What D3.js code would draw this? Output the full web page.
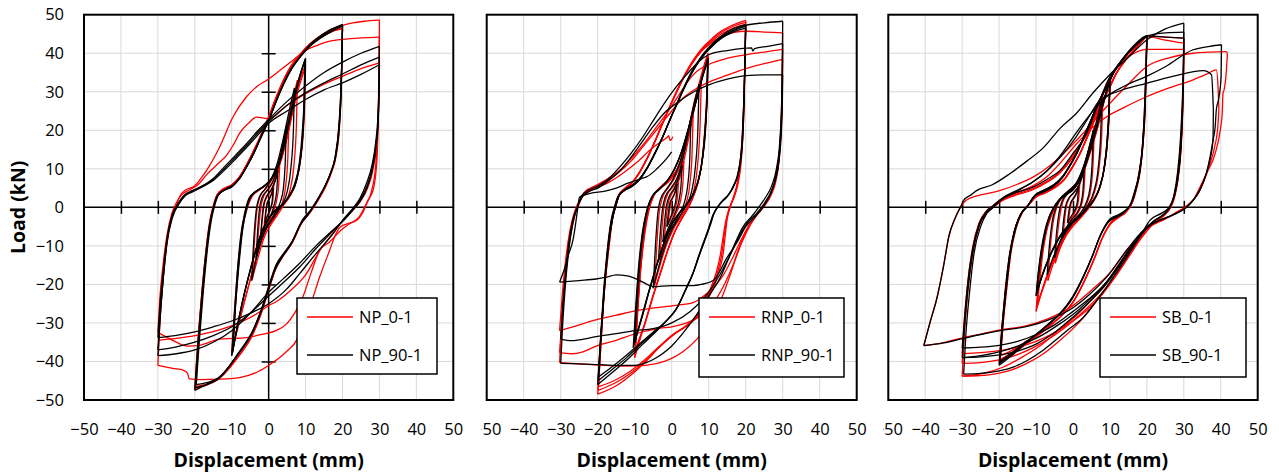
<!DOCTYPE html>
<html>
<head>
<meta charset="utf-8">
<script src="https://cdn.jsdelivr.net/npm/d3@7"></script>
<style>
  body { margin: 0; background: #fff; }
  svg { display: block; }
  text { font-family: "Open Sans", "Noto Sans", sans-serif; fill: #000; }
</style>
</head>
<body>
<svg id="chart" width="1279" height="475"></svg>
<script>
// ---------------------------------------------------------------
// Axis values
// ---------------------------------------------------------------
const xTicks = [-50, -40, -30, -20, -10, 0, 10, 20, 30, 40, 50];
const yTicks = [-50, -40, -30, -20, -10, 0, 10, 20, 30, 40, 50];
const innerTicks = [-40, -30, -20, -10, 0, 10, 20, 30, 40];
const seriesNames = [["NP_0-1", "NP_90-1"], ["RNP_0-1", "RNP_90-1"], ["SB_0-1", "SB_90-1"]];

// ---------------------------------------------------------------
// Load-displacement records. Each branch is a flat list of
// displacement (mm), load (kN) pairs; loading branches run left to
// right, unloading branches right to left.
// ---------------------------------------------------------------

// NP_0-1
const np0 = [
 [-1.2,-4.5, -0.8,-1, -0.4,1.2, 0.3,2.5, 0.9,4, 1.4,6],
 [1.4,6, 1.2,2.5, 0.8,0.3, 0.1,-1.5, -0.6,-3, -1.2,-4.5],
 [-2.2,-8.5, -1.7,-3, -1.2,0.8, -0.3,3, 0.9,4.8, 2,7.5, 3,11.5],
 [3,11.5, 2.7,5.5, 2.1,1.5, 1,-1.5, -0.3,-3.8, -1.4,-5.8, -2.2,-8.5],
 [-3.2,-12.5, -2.6,-4.5, -2.1,0, -1.3,3, 0.2,5, 1.7,7.5, 3.3,12.5, 4.6,19, 5.5,23],
 [5.5,23, 5.2,13, 4.6,5.5, 3.8,1.5, 2.6,-1, 1,-3.5, -0.5,-5.5, -2,-9, -3.2,-12.5],
 [-4.4,-18.5, -3.8,-8, -3.2,-1, -2.3,2.8, -0.8,4.8, 1,7.5, 2.8,12, 4.6,19.5, 6.5,28, 7.8,33],
 [7.8,33, 7.5,21, 6.8,10.5, 5.8,4.5, 4.3,1, 2.5,-1.8, 0.6,-4.5, -1.3,-8, -3,-13.5, -4.4,-18.5],
 [-10,-37.5, -9.2,-26, -8.2,-14, -7.1,-5, -6,-0.5, -4.8,2.5, -3,4.2, -1,5.6, 1,7.8, 3,11.5, 4.5,16.5, 6,23, 7.5,29.5, 9,34.5, 10,37],
 [10,37, 9.8,28, 9.4,19.5, 8.6,12, 7.4,6.5, 5.8,3, 3.8,0.5, 1.8,-1.5, 0,-4, -1.6,-7.5, -3.2,-12.5, -4.9,-18.5, -6.7,-25, -8.4,-31.5, -10,-37.5],
 [-9.8,-36.5, -9,-25, -8,-13, -6.9,-4.5, -5.7,0, -4.5,2.8, -2.6,4.5, -0.6,6, 1.5,8.5, 3.5,12.5, 5,18, 6.5,24.5, 8,30.5, 9.3,34.5, 9.8,36],
 [9.8,36, 9.6,27, 9.2,18.5, 8.4,11.5, 7.2,6, 5.5,2.5, 3.4,0, 1.4,-2, -0.3,-4.5, -1.9,-8.5, -3.5,-13.5, -5.2,-19.5, -7,-26, -8.5,-31.5, -9.8,-36.5],
 [-20,-47, -19.2,-35.5, -18.2,-23.5, -17,-11.5, -16,-4, -15,0.3, -14,3.2, -12.5,4.6, -10,5.8, -8,7.8, -6,11, -4,14.8, -2.2,18.5, 0,23.5, 2,28.5, 4,33, 6,36.6, 8.4,39.6, 11,42.3, 13.3,44, 16.5,45.5, 20,46.3],
 [20,46.3, 19.8,37, 19.6,29, 19.2,21, 18.3,13.5, 17,9, 15.5,5.5, 13.5,2, 11.5,-1, 9,-4, 6.5,-9, 4,-12.5, 2.1,-15.5, 0,-21.5, -2,-27.5, -4.3,-33, -8,-38.5, -13.3,-44.4, -16.5,-46, -20,-47],
 [-19.8,-46.5, -19,-35, -18,-23, -16.8,-11, -15.8,-3.8, -14.8,0.5, -13.8,3.4, -12.3,4.8, -9.8,6, -7.8,8, -5.8,11.3, -3.8,15, -2,18.8, 0.2,23.8, 2.2,28.7, 4.2,33.2, 6.2,36.7, 8.6,39.6, 11.2,42.2, 13.5,43.8, 16.8,45.5, 20,46.6],
 [20,46.6, 19.8,37.5, 19.5,29, 19.1,21, 18.1,13.2, 16.8,8.7, 15.3,5.2, 13.3,1.8, 11.3,-1.2, 8.8,-4.3, 6.3,-9.3, 3.8,-12.8, 1.9,-16, -0.2,-22, -2.2,-28, -4.5,-33.3, -8.2,-38.7, -13.5,-44.3, -16.7,-45.8, -19.8,-46.5],
 [-20,-47.2, -19.2,-35.5, -18.2,-23.5, -17,-11.5, -16,-4, -15,0.3, -14,3.2, -12.5,4.6, -10,5.8, -8,7.8, -6,11, -4,14.8, -2.2,18.5, 0,23.5, 2,28.5, 4,33, 6,36.6, 8.4,39.6, 11,42.3, 13.3,44, 16.5,46, 20,47.2, 22.8,47.9, 26,48.3, 29.6,48.6, 30,48.6],
 [30,48.6, 29.9,40, 29.7,25, 29.3,12, 28.3,4.5, 27,2, 25.5,-1.3, 23.8,-3.4, 21.5,-4.2, 19.5,-5, 18.4,-6.5, 16.5,-11.2, 13.8,-18.1, 11.1,-26, 9,-31, 7.5,-34.6, 5,-37.3, 3,-39, 0,-41, -2.4,-42.4, -5,-43.5, -7.9,-44.2, -13.3,-44.6, -18.7,-44.7, -21.5,-44.5, -22,-43, -23,-42.3, -26,-41.8, -29.5,-41.1, -30,-41],
 [-30,-41, -29.5,-31, -28.7,-20, -27.6,-10, -26.3,-3, -25,0.5, -24,3, -22.5,4.5, -20,5.6, -18.5,7.3, -16.8,9.6, -13.3,15.6, -9.7,23.4, -6,28.7, -3,31.5, -0.5,33, 3,35.5, 5.7,37.5, 8,39.3, 10.2,40.8, 13,42, 16,43, 20,43.6, 25,44, 30,44.2],
 [30,44.2, 29.9,35, 29.6,22, 29,11, 27.8,4, 26.2,0.5, 24.5,-2.5, 22,-4.2, 19.5,-6, 16.5,-9, 13.8,-11.2, 11.5,-17, 9.2,-23.4, 7,-27.5, 4.8,-30.3, 2,-32, -1.5,-32.9, -6,-33.8, -13.3,-34.2, -18.7,-35.8, -22,-36, -25,-35, -28,-33.5, -30,-32.5],
 [-30,-32.5, -29.5,-24, -28.6,-15, -27.5,-7, -26.2,-1.5, -25,1.2, -23.5,3.3, -21.5,4.5, -19,6, -16.8,8.5, -13.5,11.5, -11.4,13.5, -9.5,16.3, -7.9,19.2, -5.5,21.8, -3.3,23.4, -1.5,23.2, 0,23, 5,26.5, 10,29.5, 15,32, 20,34, 25,36, 30,37.5],
 [30,37.5, 29.8,27, 29.3,17, 28.3,10, 26.8,5, 24.8,1.5, 23,-0.5, 20.5,-3, 18,-6, 14,-11, 10,-17.5, 6,-21.5, 2,-24.5, 0,-25.5, -3,-27.5, -8,-30, -14,-32, -20,-33.3, -25,-34, -30,-34.5]
];

// NP_90-1
const np90 = [
 [-1,-4, -0.7,-1, -0.4,1, 0.2,2.2, 0.8,3.5, 1.2,5],
 [1.2,5, 1,2, 0.6,0, 0,-1.5, -0.6,-2.8, -1,-4],
 [-2.2,-8, -1.8,-3, -1.4,0.5, -0.6,2.8, 0.5,4.3, 1.6,6.5, 2.5,9.5],
 [2.5,9.5, 2.2,4.5, 1.6,1, 0.6,-2, -0.5,-4, -1.6,-6, -2.2,-8],
 [-3.4,-13, -2.9,-5, -2.5,-0.5, -1.8,2.5, -0.5,4.3, 1,6.5, 2.5,10.5, 4,17, 4.8,21],
 [4.8,21, 4.5,12, 4,5, 3.2,1.5, 2,-1, 0.5,-3.5, -1,-5.5, -2.5,-9, -3.4,-13],
 [-4.6,-19, -4,-8, -3.4,-1, -2.6,2.5, -1.2,4.5, 0.5,7, 2.2,11, 4,18, 6,27, 7,31],
 [7,31, 6.7,20, 6,10, 5,4, 3.5,0.5, 1.8,-2, 0,-4.5, -1.8,-8, -3.5,-14, -4.6,-19],
 [-10,-38.5, -9.3,-28, -8.5,-17, -7.5,-7, -6.5,-1.5, -5.5,2, -4,3.8, -2,5, 0,6.5, 2,9.5, 3.5,14, 5,20.5, 6.5,27, 8.2,33.5, 10,38.7],
 [10,38.7, 9.8,30, 9.4,21, 8.7,13, 7.6,7, 6,3.5, 4,1, 2,-0.5, 0,-2.8, -1.8,-6, -3.5,-11, -5.2,-17, -7,-24, -8.5,-31, -10,-38.5],
 [-9.8,-37.8, -9.1,-27, -8.2,-15.5, -7.2,-6, -6.2,-1, -5.2,2.3, -3.6,4, -1.5,5.3, 0.5,7, 2.5,10.5, 4,15.5, 5.5,22, 7,28.5, 8.6,34.5, 9.9,38.4],
 [9.9,38.4, 9.7,29, 9.3,20, 8.5,12, 7.3,6.5, 5.6,3, 3.6,0.5, 1.6,-1, -0.3,-3.3, -2,-6.8, -3.7,-12, -5.4,-18, -7.2,-25, -8.6,-31.5, -9.8,-37.8],
 [-9.7,-37.2, -9,-26, -8,-14.5, -7,-5.5, -6,-0.5, -5,2.5, -3.3,4.2, -1.2,5.6, 0.8,7.5, 2.8,11, 4.3,16.5, 5.8,23, 7.3,29.5, 8.8,35, 9.8,38],
 [9.8,38, 9.6,28.5, 9.1,19.5, 8.3,11.5, 7,6, 5.2,2.5, 3.2,0, 1.2,-1.5, -0.6,-3.8, -2.2,-7.5, -3.9,-12.5, -5.6,-18.5, -7.3,-25.5, -8.6,-31.5, -9.7,-37.2],
 [-20,-47.5, -19.2,-36, -18.2,-24, -17,-12, -16,-4.5, -15,0, -14,2.8, -12.5,4.2, -10,5.3, -8,7.3, -6,10.4, -4,14, -2.4,17.4, 0,22.5, 2,27.5, 4,32, 6,35.8, 8.4,39, 11,42, 13.3,44, 16.5,46, 20,47.5],
 [20,47.5, 19.8,38, 19.6,30, 19.2,22, 18.3,14, 17,9.5, 15.5,6, 13.5,2.5, 11.5,-0.5, 9,-3.5, 6.5,-8.6, 4,-12, 2.1,-14.7, 0,-20.5, -2,-26.5, -4.3,-32, -8,-37.5, -13.3,-44.2, -16.5,-45.8, -20,-47.5],
 [-19.8,-46.8, -19,-35.5, -18,-23.5, -16.8,-11.5, -15.8,-4, -14.8,0.3, -13.8,3, -12.3,4.3, -9.8,5.5, -7.8,7.6, -5.8,10.8, -3.8,14.5, -2.2,18, 0.2,23, 2.2,28, 4.2,32.4, 6.2,36, 8.6,39.2, 11.2,42, 13.5,43.8, 16.8,45.8, 20,47.2],
 [20,47.2, 19.8,37.5, 19.6,29.5, 19.1,21.5, 18.1,13.5, 16.8,9, 15.2,5.5, 13.2,2, 11.2,-1, 8.8,-4, 6.3,-9, 3.8,-12.5, 1.9,-15.5, -0.2,-21.5, -2.2,-27.3, -4.5,-32.6, -8.2,-38, -13.5,-44.4, -16.7,-46, -19.8,-46.8],
 [-19.6,-46, -18.8,-35, -17.8,-23, -16.6,-11, -15.6,-3.8, -14.6,0.5, -13.6,3.2, -12.1,4.5, -9.6,5.8, -7.6,7.9, -5.6,11.2, -3.6,15, -2,18.6, 0.4,23.5, 2.4,28.3, 4.4,32.6, 6.4,36.2, 8.8,39.3, 11.4,42, 13.7,43.7, 17,45.6, 20,47],
 [20,47, 19.8,37, 19.5,29, 19,21, 18,13, 16.6,8.5, 15,5, 13,1.5, 11,-1.5, 8.6,-4.5, 6.1,-9.5, 3.6,-13, 1.7,-16.3, -0.4,-22.3, -2.4,-28, -4.7,-33, -8.4,-38.3, -13.7,-44.3, -16.8,-45.5, -19.6,-46],
 [-30,-38.5, -29.4,-29, -28.6,-19, -27.6,-9, -26.2,-2.5, -24.5,1, -23,3, -21,4.2, -18,5.5, -15,7.5, -12,10.5, -9,13.5, -6,16.5, -3,19.8, 0,22.8, 5,27.5, 10,31.5, 15,35, 20,37.7, 25,40, 30,41.8],
 [30,41.8, 29.9,33, 29.6,24, 29,17, 28,11, 26.6,6.5, 24.8,2.5, 23,0, 20,-3.4, 17.4,-6.9, 13,-11.8, 8.4,-17.2, 4.8,-21.3, 0,-25, -5,-27.5, -10,-29.5, -15,-31, -20,-32.3, -25,-33.2, -30,-33.8],
 [-30,-33.8, -29.4,-25, -28.5,-16, -27.5,-8, -26.1,-2, -24.4,1, -22.8,3, -20.8,4.2, -18,5.5, -15,7.3, -12,10, -9,13, -6,16, -3,19.3, 0,22.3, 5,26.5, 10,29.7, 15,32.3, 20,34.6, 25,37, 30,39],
 [30,39, 29.9,31, 29.6,22.5, 29,16, 28,10, 26.6,5.5, 24.8,2, 23.3,0, 20.5,-3, 17.5,-6, 13,-10.5, 8.4,-15.5, 4,-19.5, 0,-23, -5,-27.5, -10,-31, -15,-33.3, -20,-35, -25,-36.2, -30,-37],
 [-30,-37, -29.4,-28, -28.5,-18, -27.5,-9, -26,-2.5, -24.2,1, -22.6,3, -20.6,4, -18,5.3, -15,7, -12,9.6, -9,12.5, -6,15.5, -3,18.7, 0,21.8, 5,25, 10,28, 15,30.5, 20,32.3, 25,34.5, 30,37],
 [30,37, 29.9,29.5, 29.6,21.5, 29,15, 28,9.5, 26.6,5, 24.7,1.5, 23,-0.5, 20.5,-3.2, 17.5,-5.8, 13,-9.8, 8.4,-14.5, 4,-18.5, 0,-22, -5,-27.5, -10,-32, -15,-35, -20,-37, -25,-38, -30,-38.5]
];

// RNP_0-1
const rnp0 = [
 [-1,-4.5, -0.6,-1, -0.2,1.2, 0.5,2.8, 1.2,4.5, 1.8,6.5],
 [1.8,6.5, 1.6,3, 1.1,0.3, 0.4,-1.6, -0.4,-3.2, -1,-4.5],
 [-2,-8.5, -1.5,-3, -1,0.8, -0.1,3.3, 1.1,5.2, 2.3,8, 3.3,12],
 [3.3,12, 3,6, 2.4,1.8, 1.3,-1.3, 0.1,-3.8, -1,-6.3, -2,-8.5],
 [-3.2,-13.5, -2.6,-5, -2.1,0, -1.2,3.2, 0.3,5.3, 1.9,8, 3.5,13, 4.9,19.5, 5.8,24],
 [5.8,24, 5.5,14, 4.9,6, 4.1,1.8, 2.9,-1, 1.3,-3.8, -0.3,-6.3, -1.9,-9.8, -3.2,-13.5],
 [-4.6,-20, -4,-9.5, -3.4,-1.5, -2.5,2.5, -1,5, 0.8,7.6, 2.7,12, 4.7,19.5, 6.7,28, 8,33],
 [8,33, 7.7,22, 7,11, 6,4.5, 4.5,0.8, 2.7,-2.2, 0.7,-5.2, -1.2,-9.2, -3,-14.5, -4.6,-20],
 [-10,-39, -9.4,-29, -8.6,-18, -7.6,-8, -6.5,-1.5, -5.2,2.5, -3.2,4.8, -1,6.5, 1,9, 3,14, 4.5,20, 6,27, 7.5,32.5, 8.8,37, 9.8,40],
 [9.8,40, 9.6,31, 9.2,22, 8.5,14, 7.5,8, 6.2,3.8, 4.8,0.5, 3,-2.5, 1,-6, -1,-11, -3,-17, -5,-23, -7,-29.5, -8.8,-35, -10,-39],
 [-9.9,-38, -9.3,-28, -8.5,-17, -7.5,-7.5, -6.3,-1, -5,2.8, -3,5.2, -0.8,7, 1.3,9.6, 3.3,14.7, 4.8,20.8, 6.3,27.5, 7.8,33, 9,37, 9.8,39.3],
 [9.8,39.3, 9.6,30.5, 9.1,21.5, 8.4,13.5, 7.4,7.6, 6.1,3.5, 4.6,0.2, 2.8,-2.8, 0.8,-6.4, -1.2,-11.5, -3.2,-17.5, -5.2,-23.5, -7.2,-30, -8.8,-34.5, -9.9,-38],
 [-9.8,-37.5, -9.2,-27.5, -8.4,-16.5, -7.3,-7, -6.1,-0.5, -4.8,3.1, -2.8,5.5, -0.6,7.4, 1.6,10.2, 3.6,15.4, 5.1,21.5, 6.6,28, 8.1,33.5, 9.2,37, 9.8,39],
 [9.8,39, 9.5,30, 9,21, 8.3,13, 7.3,7.2, 6,3.2, 4.4,-0.1, 2.6,-3.1, 0.6,-6.8, -1.4,-12, -3.4,-18, -5.4,-24, -7.4,-30.5, -8.8,-34.3, -9.8,-37.5],
 [-20,-48.5, -19.3,-37, -18.5,-25, -17.5,-12.5, -16.4,-4, -15.5,-0.5, -14.7,2.5, -13,4.5, -11,6, -9,8.5, -7,12, -5,16, -3,20.5, -1,25, 1,29.5, 3,33.5, 5,37, 7.5,40.5, 10,43, 13,45.5, 16.5,47.3, 20,48.5],
 [20,48.5, 19.8,39, 19.6,29, 19.3,20, 18.8,12, 18,6.5, 17,3, 16,0.5, 15,-3, 14.5,-7, 13.9,-12.1, 12.8,-16.5, 11.2,-20.8, 9.5,-24.5, 7.6,-27.7, 4.5,-30.5, 1.3,-32.5, -3,-36, -7,-40, -11,-43.5, -15,-46.3, -20,-48.5],
 [-19.9,-47.5, -19.2,-36, -18.4,-24, -17.3,-12, -16.2,-3.5, -15.3,0, -14.5,2.8, -12.8,4.8, -10.8,6.3, -8.8,8.9, -6.8,12.4, -4.8,16.5, -2.8,21, -0.8,25.5, 1.2,29.8, 3.2,33.7, 5.2,37, 7.7,40.4, 10.2,43, 13.2,45.3, 16.7,47, 20,48],
 [20,48, 19.8,38.5, 19.5,28.5, 19.2,19.5, 18.6,11.5, 17.8,6.2, 16.8,2.7, 15.8,0.2, 14.8,-3.3, 14.2,-7.3, 13.5,-12.3, 12.4,-16.8, 10.8,-21, 9,-24.8, 7,-28, 4,-30.8, 0.8,-32.8, -3.3,-36.2, -7.3,-40, -11.3,-43.2, -15.3,-45.6, -19.9,-47.5],
 [-19.8,-46.5, -19.1,-35, -18.3,-23, -17.1,-11.5, -16,-3, -15.1,0.3, -14.3,3, -12.6,5, -10.6,6.6, -8.6,9.3, -6.6,12.8, -4.6,17, -2.6,21.5, -0.6,26, 1.4,30, 3.4,34, 5.4,37.2, 7.9,40.4, 10.4,42.8, 13.4,45, 16.9,46.6, 20,47.5],
 [20,47.5, 19.8,38, 19.5,28, 19.1,19, 18.4,11, 17.6,5.8, 16.6,2.4, 15.6,-0.1, 14.6,-3.6, 13.9,-7.6, 13.1,-12.6, 12,-17, 10.4,-21.3, 8.5,-25, 6.5,-28.3, 3.5,-31, 0.3,-33, -3.6,-36.3, -7.6,-39.8, -11.6,-42.8, -15.6,-45, -19.8,-46.5],
 [-19.8,-46.5, -19.1,-35, -18.3,-23, -17.1,-11.5, -16,-3, -15.1,0.3, -14.3,3, -12.6,5, -10.6,6.6, -8.6,9.3, -6.6,12.8, -4.6,17, -2.6,21.5, -0.6,26, 1.4,30, 3.4,34, 5.4,37.2, 7.9,40.4, 10.4,42.5, 13.4,44.3, 16.9,45.4, 20,45.7, 25,45.5, 30,45.3],
 [30,45.3, 29.9,36, 29.7,26, 29.3,17, 28.5,10, 27.3,5, 25.8,2, 24,-0.5, 22,-3, 20,-6.5, 18,-11, 16,-17, 13.5,-23.5, 10.5,-29.5, 7,-34, 3,-37.5, -2,-40, -7,-41, -12,-41.2, -18,-41, -24,-40.7, -30.3,-40.3],
 [-30.3,-40.3, -29.7,-30, -28.9,-19, -27.9,-9.5, -26.7,-3, -25.5,0, -24.3,3, -22.8,4.6, -21.3,5.3, -18,7, -14,9.6, -10.5,13.2, -6.8,17.4, -4,21, -1.4,24.4, 1.5,28.5, 4,32.2, 6.8,35.3, 9.8,37, 15,38.7, 20,39.6, 25,40.3, 30,41],
 [30,41, 29.9,32, 29.6,22, 29.1,14, 28.2,8, 26.8,3.5, 25,0.5, 23,-2, 21,-5, 19,-9, 17,-14, 14.5,-19.5, 11.5,-24.5, 8,-28, 4,-30, 0,-31, -3.3,-31.4, -10.5,-33, -15,-34.5, -20.4,-36, -24,-37.5, -27,-38, -30.3,-37.7],
 [-30.3,-37.7, -29.6,-28, -28.7,-18, -27.6,-9, -26.3,-2.5, -25.2,0.5, -24,3, -22,4.5, -19,6, -15,8.5, -11,12, -8,15.5, -5,19, -2.5,22, 0,25, 3,28.3, 7,31, 10,32.5, 15,34.3, 20,36, 25,37.3, 30,38.4],
 [30,38.4, 29.9,30, 29.6,21, 29.1,13, 28.2,7, 26.8,3, 25,0.3, 23,-2, 21,-4.5, 19,-8, 16.5,-13, 14,-17.5, 11,-21, 8,-23.5, 5.8,-24.7, 0.4,-25.5, -9.5,-26.8, -15,-28, -21.3,-29.4, -26,-30.8, -30.3,-32],
 [-30.3,-32, -29.6,-23, -28.7,-14, -27.5,-6, -26.2,-1, -25.1,1.5, -23.6,3.5, -21,4.8, -17,6.5, -13,9, -9,12, -5.5,15.2, -3,17, -1.2,18.2, -0.8,18.6, -0.5,17.4, -0.1,17.6, 0.3,18.3]
];

// RNP_90-1
const rnp90 = [
 [-1.3,-5, -0.9,-1.5, -0.5,1, 0.2,2.5, 0.9,4, 1.4,6],
 [1.4,6, 1.2,2.5, 0.7,0, 0,-1.8, -0.7,-3.5, -1.3,-5],
 [-2.4,-9, -1.9,-3.5, -1.4,0.5, -0.6,3, 0.6,4.8, 1.8,7.5, 2.8,11],
 [2.8,11, 2.5,5.5, 1.9,1.5, 0.9,-1.5, -0.3,-4, -1.4,-6.5, -2.4,-9],
 [-3.6,-14, -3,-5.5, -2.5,-0.5, -1.7,2.8, -0.2,5, 1.4,7.5, 3,12.5, 4.4,19, 5.2,23],
 [5.2,23, 4.9,13, 4.3,5.5, 3.5,1.5, 2.3,-1.2, 0.8,-4, -0.8,-6.5, -2.3,-10, -3.6,-14],
 [-5,-21, -4.4,-10, -3.8,-2, -3,2.2, -1.5,4.6, 0.3,7.2, 2.2,11.5, 4.2,19, 6.2,27.5, 7.4,32],
 [7.4,32, 7.1,21, 6.4,10.5, 5.4,4.2, 3.9,0.5, 2.1,-2.5, 0.2,-5.5, -1.6,-9.5, -3.4,-15, -5,-21],
 [-10.4,-36.4, -9.8,-27, -9,-16, -8,-7, -6.8,-1, -5.5,2.5, -3.5,4.5, -1.5,6.5, 0.5,9.5, 2.5,14, 4.5,20.5, 6.5,27.5, 8.3,34, 9.8,38.8],
 [9.8,38.8, 9.6,30, 9.2,21, 8.4,13, 7.2,7, 5.6,3, 3.8,0.5, 2,-1.5, 0,-4.5, -2,-9, -4,-15, -6,-21.5, -8,-28.5, -9.5,-33.5, -10.4,-36.4],
 [-10.2,-35.5, -9.6,-26, -8.8,-15, -7.8,-6.5, -6.6,-0.5, -5.3,2.8, -3.3,4.8, -1.3,6.8, 0.7,9.8, 2.7,14.5, 4.7,21, 6.7,28, 8.4,34.2, 9.8,38.3],
 [9.8,38.3, 9.6,29.5, 9.1,20.5, 8.3,12.5, 7,6.5, 5.4,2.7, 3.6,0.2, 1.8,-1.8, -0.2,-4.8, -2.2,-9.5, -4.2,-15.5, -6.2,-22, -8.2,-29, -9.5,-33, -10.2,-35.5],
 [-10,-35, -9.4,-25.5, -8.6,-14.5, -7.6,-6, -6.4,0, -5.1,3, -3.1,5, -1.1,7, 0.9,10.2, 2.9,15, 4.9,21.5, 6.9,28.5, 8.5,34.3, 9.7,37.8],
 [9.7,37.8, 9.5,29, 9,20, 8.2,12, 6.9,6.2, 5.2,2.4, 3.4,0, 1.6,-2, -0.4,-5, -2.4,-10, -4.4,-16, -6.4,-22.5, -8.3,-29, -9.3,-32.5, -10,-35],
 [-20,-46, -19.3,-35, -18.5,-23, -17.4,-11, -16.4,-3.5, -15.5,0, -14.5,2.8, -13,4.2, -11,5.2, -9,6.8, -7,9.5, -5,13, -3,17, -1,21.5, 1,26, 3,30.5, 5,34.5, 7.5,38.5, 10,41.5, 13,44.2, 16.5,46.3, 20,47.4],
 [20,47.4, 19.8,38, 19.6,28, 19.2,18, 18.3,10, 17,6, 15.5,3.5, 13.5,1.5, 11.5,-1.5, 10.3,-5, 8.8,-9, 7.6,-12.1, 6,-16.5, 4,-20.8, 1.5,-26, -1.4,-29.4, -4.5,-32.5, -7.8,-35.5, -12,-39.5, -16,-42.8, -20,-46],
 [-19.9,-45, -19.2,-34, -18.3,-22, -17.2,-10.5, -16.2,-3.2, -15.3,0.3, -14.3,3, -12.8,4.4, -10.8,5.5, -8.8,7.1, -6.8,9.9, -4.8,13.5, -2.8,17.5, -0.8,22, 1.2,26.4, 3.2,30.8, 5.2,34.7, 7.7,38.6, 10.2,41.5, 13.2,44, 16.7,46, 20,47],
 [20,47, 19.8,37.5, 19.5,27.5, 19.1,17.5, 18.1,9.6, 16.8,5.7, 15.3,3.2, 13.3,1.2, 11.3,-1.8, 10.1,-5.3, 8.6,-9.3, 7.4,-12.5, 5.8,-17, 3.8,-21.3, 1.3,-26.3, -1.6,-29.6, -4.7,-32.4, -8,-35.2, -12.2,-39, -16,-42, -19.9,-45],
 [-19.8,-44, -19.1,-33, -18.2,-21, -17.1,-10, -16,-3, -15.1,0.5, -14.1,3.2, -12.6,4.6, -10.6,5.8, -8.6,7.5, -6.6,10.3, -4.6,14, -2.6,18, -0.6,22.5, 1.4,26.8, 3.4,31, 5.4,34.8, 7.9,38.6, 10.4,41.3, 13.4,43.8, 16.9,45.6, 20,46.5],
 [20,46.5, 19.8,37, 19.5,27, 19,17, 18,9.2, 16.6,5.4, 15.1,2.9, 13.1,0.9, 11.1,-2.1, 9.9,-5.6, 8.4,-9.6, 7.2,-12.9, 5.6,-17.5, 3.6,-21.8, 1.1,-26.6, -1.8,-29.8, -4.9,-32.3, -8.2,-35, -12.4,-38.5, -16,-41.3, -19.8,-44],
 [-19.8,-44, -19.1,-33, -18.2,-21, -17.1,-10, -16,-3, -15.1,0.5, -14.1,3.2, -12.6,4.6, -10.6,5.8, -8.6,7.5, -6.6,10.3, -4.6,14, -2.6,18, -0.6,22.5, 1.4,26.8, 3.4,31, 5.4,34.8, 7.9,38.6, 10.4,41.5, 13.4,44, 16.9,46, 20,47.2, 25,47.9, 30,48.3],
 [30,48.3, 29.9,38, 29.7,27, 29.2,17, 28.3,10, 27,5.5, 25.3,2.5, 23.5,0, 21.5,-2.5, 19.3,-5, 17.5,-8.5, 15.5,-13, 13,-18.5, 10,-23, 7,-27.5, 4,-31.5, 0,-36, -5,-39.5, -10,-41, -15,-41, -20,-40.8, -25,-40.6, -30,-40.5],
 [-30,-40.5, -29.5,-31, -28.8,-21, -27.8,-11, -26.7,-4, -25.5,0, -24.3,3, -22.5,4.5, -20,5.5, -17,7.5, -14,10.5, -11,14, -8,18, -5,22.5, -2,27, 1,31, 4.5,35, 7.5,38, 10,39.6, 15,40.7, 20,41.3, 21.6,41.4, 21.9,40.6, 22.4,41.2, 26,41.8, 30,42.5],
 [30,42.5, 29.9,33, 29.7,24, 29.2,15, 28.3,8.5, 26.8,4, 25,1, 23,-1.5, 20.5,-4, 18.5,-7, 16,-12, 13,-17.5, 10,-22, 5,-27, 0,-30, -5,-31.5, -10,-32, -15,-32.8, -20,-33.5, -25,-34.4, -27,-34.6, -30,-34.2],
 [-30,-34.2, -29.5,-26, -28.7,-17, -27.7,-8.5, -26.5,-2.5, -25.5,0, -24.3,2.5, -22.5,4, -20,5, -17,7, -14,9.5, -11,13, -8,17, -5,21, -2,24.5, 2,27.5, 6,30, 10,31.8, 15,33.3, 20,34.2, 25,34.4, 30,34.4],
 [30,34.4, 29.9,27, 29.6,19, 29,12, 28,7, 26.5,3, 24.7,0, 22.5,-2.5, 20,-5, 18,-8.5, 15,-13, 11.2,-19, 8,-20, 5.8,-20.3, 0,-20.3, -5,-20.6, -5.9,-20.3, -8.6,-19, -12,-17.8, -15,-17.5, -18,-18.2, -20.4,-18.6, -25,-19, -30.3,-19.4],
 [-30.3,-19.4, -29,-16, -27.8,-12, -26.7,-8.6, -26,-4.5, -25.5,-1, -24.9,2.7, -22,3.6, -18,4.2, -15,5, -12,6.2, -8,7.5, -6.8,7.9, -4,10, -1.5,12.5, 0,14.4]
];

// SB_0-1
const sb0 = [
 [-1.3,-4.5, -0.9,-1.2, -0.5,1, 0.3,2.4, 1.1,3.8, 1.8,6],
 [1.8,6, 1.6,2.8, 1.2,0.4, 0.5,-1.3, -0.4,-2.8, -1.3,-4.5],
 [-2.8,-9, -2.3,-3.5, -1.8,0.2, -0.9,2.5, 0.3,3.9, 1.8,6, 3.3,10.5],
 [3.3,10.5, 3,5, 2.5,1.4, 1.5,-1.2, 0.3,-3, -1.2,-5.2, -2.8,-9],
 [-4.8,-14.5, -4.2,-7, -3.5,-1.8, -2.7,1.6, -1.2,3.7, 0.8,5.8, 2.8,10, 4.5,16, 5.8,21],
 [5.8,21, 5.5,12.5, 4.9,5.2, 3.8,1.1, 2.3,-1.6, 0.3,-3.8, -1.7,-6.5, -3.3,-10, -4.8,-14.5],
 [-6.8,-19, -6.2,-11, -5.4,-4, -4.4,0, -3,2.6, -1,4.5, 1.3,6.8, 3.3,11.5, 5.3,18, 7.1,24.5, 8.1,28.5],
 [8.1,28.5, 7.8,19.5, 7.1,10.5, 5.9,4.2, 4.3,0.6, 2.3,-2.1, 0.3,-4.3, -1.7,-7, -3.7,-11, -5.4,-14.8, -6.8,-19],
 [-10,-27, -9.4,-20, -8.6,-13, -7.6,-7, -6.4,-3, -5,0, -3.5,2, -1.6,3.5, 0.4,5, 2,7.2, 3.5,11, 5,15.5, 6.5,20.5, 8,26, 9.2,30.3, 10,33],
 [10,33, 9.8,26, 9.4,18, 8.6,11, 7.4,5.6, 5.8,2, 3.9,-0.5, 1.8,-2.8, -0.2,-4.8, -2.2,-7.5, -4.2,-11, -6.2,-15.5, -8.2,-21, -10,-27],
 [-9.8,-26, -9.2,-19.5, -8.4,-12.5, -7.4,-6.7, -6.2,-2.8, -4.8,0.2, -3.3,2.2, -1.4,3.8, 0.6,5.4, 2.2,7.6, 3.7,11.5, 5.2,16, 6.7,21, 8.1,26.4, 9.3,30.5, 10,33],
 [10,33, 9.8,25.5, 9.3,17.5, 8.5,10.5, 7.3,5.3, 5.6,1.7, 3.7,-0.8, 1.6,-3.1, -0.4,-5.2, -2.4,-8, -4.4,-11.6, -6.3,-16, -8.2,-21, -9.8,-26],
 [-9.6,-25, -9,-19, -8.2,-12, -7.2,-6.4, -6,-2.6, -4.6,0.4, -3.1,2.4, -1.2,4.1, 0.8,5.8, 2.4,8, 3.9,12, 5.4,16.5, 6.9,21.5, 8.2,26.8, 9.4,30.8, 10,33],
 [10,33, 9.7,25, 9.2,17, 8.4,10, 7.2,5, 5.4,1.4, 3.5,-1.1, 1.4,-3.4, -0.6,-5.6, -2.6,-8.5, -4.6,-12.2, -6.4,-16.5, -8.1,-21, -9.6,-25],
 [-20,-40.3, -19.3,-31.5, -18.4,-22.5, -17.2,-12.5, -15.8,-6, -14,-1.6, -12.2,0.4, -10.3,2.5, -7.6,3.7, -5,5, -2.5,7, -0.5,9.8, 1.5,13.2, 3.5,17.5, 5.5,22, 7.5,26.6, 9.5,30.5, 11.5,34.5, 14,38, 17,41.5, 20,44.5],
 [20,44.5, 19.8,35, 19.5,25, 19,17, 18.2,9.5, 17.2,4.8, 16.2,1.5, 14.8,-0.6, 12.8,-2, 10.5,-3.6, 8,-7.8, 6,-12.8, 3.5,-18.3, 0.5,-23.8, -3,-28, -6.5,-31, -9.5,-33.3, -12,-35, -15.5,-37.6, -20,-40.3],
 [-19.8,-39.5, -19.1,-30.8, -18.2,-22, -17,-12, -15.6,-5.6, -13.8,-1.3, -12,0.7, -10.1,2.7, -7.4,3.9, -4.8,5.3, -2.3,7.3, -0.3,10.2, 1.7,13.6, 3.7,17.9, 5.7,22.4, 7.7,27, 9.7,30.8, 11.7,34.8, 14.2,38.2, 17.2,41.6, 20,44.5],
 [20,44.5, 19.7,34.5, 19.4,24.5, 18.9,16.5, 18,9, 17,4.4, 16,1.2, 14.6,-0.9, 12.6,-2.3, 10.3,-4, 7.8,-8.2, 5.8,-13.2, 3.3,-18.7, 0.3,-24.2, -3.2,-28.2, -6.7,-31, -9.7,-33.2, -12.2,-34.8, -15.7,-37.2, -19.8,-39.5],
 [-19.6,-38.5, -18.9,-30, -18,-21.5, -16.8,-11.6, -15.4,-5.3, -13.6,-1.1, -11.8,0.9, -9.9,2.9, -7.2,4.2, -4.6,5.6, -2.1,7.6, -0.1,10.6, 1.9,14, 3.9,18.3, 5.9,22.8, 7.9,27.3, 9.9,31, 11.9,35, 14.4,38.4, 17.4,41.7, 20,44.5],
 [20,44.5, 19.7,34, 19.3,24, 18.8,16, 17.8,8.6, 16.8,4, 15.8,0.9, 14.4,-1.2, 12.4,-2.6, 10.1,-4.4, 7.6,-8.6, 5.6,-13.6, 3.1,-19, 0.1,-24.5, -3.4,-28.4, -6.9,-31, -9.9,-33, -12.4,-34.6, -15.9,-36.8, -19.6,-38.5],
 [-19.6,-38.5, -18.9,-30, -18,-21.5, -16.8,-11.6, -15.4,-5.3, -13.6,-1.1, -11.8,0.9, -9.9,2.9, -7.2,4.2, -4.6,5.6, -2.1,7.6, -0.1,10.6, 1.9,14, 3.9,18.3, 5.9,22.8, 7.9,27.3, 9.9,31, 11.9,35, 14.4,38.4, 17.4,41.7, 20,44.5, 25,44.2, 30,43.9],
 [30,43.9, 29.9,35, 29.7,25, 29.3,16, 28.6,8.5, 27.6,3, 26.5,0.2, 25,-1.8, 22,-3.8, 19,-6.8, 15.5,-11.5, 12,-16.8, 8.5,-21.5, 5,-26, 1,-30.5, -3.5,-34.5, -8,-38, -12.5,-40.5, -17,-42.3, -21,-43.2, -26,-43.7, -30,-43.8],
 [-30,-43.8, -29.4,-33, -28.5,-22, -27.2,-12, -25.5,-5, -23.5,-1.5, -21.6,0, -19.5,1.5, -16,3, -11,4.5, -7,6.5, -3.5,9, 0,13, 3.5,18.5, 6.5,25, 9.5,32.5, 13,37.5, 16.5,41.5, 20,44.3, 25,43.4, 30,42.6],
 [30,42.6, 29.9,34, 29.6,24, 29.2,15.5, 28.4,8, 27.4,2.8, 26.3,0, 24.5,-2, 21.5,-4.2, 18.5,-7.5, 15,-12.5, 11.5,-17.5, 8,-22, 4,-26, 0,-29.5, -5,-33.2, -10,-36, -15,-38.2, -20,-39.6, -25,-40.3, -30,-40.5],
 [-30,-40.5, -29.4,-31, -28.5,-21, -27.2,-11.5, -25.5,-4.8, -23.5,-1.3, -21.6,0.2, -19.5,1.7, -16,3.2, -11,4.8, -7,6.8, -3.5,9.3, 0,13.5, 3.5,19, 6.5,25.5, 9.5,32.8, 13,37.5, 16.5,40, 20,41, 25,41, 30,41],
 [30,41, 29.9,33, 29.6,23.5, 29.2,15, 28.4,7.5, 27.4,2.5, 26.3,-0.2, 24.5,-2.2, 21.5,-4.5, 18.5,-8, 15,-13, 11.5,-18, 8,-22.5, 4,-26.5, 0,-29.5, -5,-32.5, -10,-34.8, -15,-36.3, -20,-37.2, -25,-37.7, -30,-38],
 [-40.4,-35.9, -38.6,-29.5, -36.8,-23.4, -35,-15, -33.6,-7.5, -32,-3, -30.5,0, -29,1.8, -26,3, -22,3.8, -19.7,4.4, -15,6, -10.7,7.9, -6,11, -1.7,14.8, 3.5,20, 9.1,26.1, 14.5,31.5, 19.9,36.5, 26,38.8, 32.5,40, 37,40.3, 41.5,40.4, 41.8,40],
 [41.8,40, 41.4,34, 40.9,30.5, 40.6,29.6, 40.4,24.4, 40,20.9, 38.5,14, 36.1,8.8, 34,4.5, 32.5,1.8, 30.5,0, 28.9,-0.8, 25,-3, 20,-5.5, 15,-10.5, 10,-17, 5,-21.5, 0,-25.5, -7,-29, -13,-30.8, -19.7,-31.8, -25,-32.9, -30.5,-34, -35,-35.1, -40.4,-35.9],
 [-30,-38, -29.4,-29, -28.5,-19.5, -27.2,-10.5, -25.5,-4.2, -23.5,-1, -21.6,0.5, -19.5,2, -16,3.5, -11,5.5, -7,8, -3,12, 1,16.5, 5,20.5, 9.1,23.5, 14,26, 19.9,28.7, 26,31, 32.5,33.1, 36,34.5, 38.8,35.7, 39.3,30.5, 39.5,25.3],
 [39.5,25.3, 39.2,21, 38.3,15.5, 37,11, 35.5,7, 33.8,3.5, 31.5,1, 29.5,-0.5, 26,-2.5, 21,-4.8, 17,-8.5, 13,-14, 9,-19.5, 5,-24, 1,-28, -4,-32, -9,-36, -14,-39, -19,-41.5, -24,-43, -30,-43.8]
];

// SB_90-1
const sb90 = [
 [-1.5,-4, -1.1,-1, -0.7,1, 0,2.2, 0.8,3.5, 1.5,5.5],
 [1.5,5.5, 1.3,2.5, 0.9,0.3, 0.2,-1.2, -0.6,-2.5, -1.5,-4],
 [-3,-8, -2.5,-3, -2,0.3, -1.2,2.3, 0,3.6, 1.5,5.5, 3,9.5],
 [3,9.5, 2.7,4.5, 2.2,1.2, 1.2,-1.2, 0,-2.8, -1.5,-4.8, -3,-8],
 [-5,-13, -4.4,-6, -3.8,-1.5, -3,1.5, -1.5,3.5, 0.5,5.5, 2.5,9.5, 4.2,15, 5.5,20],
 [5.5,20, 5.2,12, 4.6,5, 3.5,1, 2,-1.5, 0,-3.5, -2,-6, -3.6,-9, -5,-13],
 [-7,-17.5, -6.4,-10, -5.6,-3.5, -4.6,0, -3.2,2.5, -1.2,4.3, 1,6.5, 3,11, 5,17.5, 6.8,24, 7.8,28],
 [7.8,28, 7.5,19, 6.8,10, 5.6,4, 4,0.5, 2,-2, 0,-4, -2,-6.5, -4,-10, -5.6,-13.5, -7,-17.5],
 [-10,-23, -9.4,-17, -8.6,-11, -7.6,-6, -6.5,-2.5, -5.2,0, -3.8,1.8, -2,3.2, 0,4.5, 1.5,6.5, 3,10, 4.5,14.5, 6,19.5, 7.5,25, 9,30, 10,33],
 [10,33, 9.8,26, 9.4,18, 8.6,11, 7.3,5.3, 5.5,1.8, 3.5,-0.5, 1.5,-2.5, -0.5,-4, -2.5,-6, -4.5,-9, -6.5,-13, -8.3,-17.5, -10,-23],
 [-9.9,-22.5, -9.3,-16.5, -8.4,-10.5, -7.4,-5.6, -6.3,-2.2, -5,0.3, -3.6,2.1, -1.8,3.5, 0.2,4.8, 1.7,6.9, 3.2,10.5, 4.7,15, 6.2,20, 7.7,25.5, 9.1,30.3, 10,33],
 [10,33, 9.8,25.5, 9.3,17.5, 8.5,10.5, 7.1,5, 5.3,1.5, 3.3,-0.8, 1.3,-2.8, -0.7,-4.3, -2.7,-6.4, -4.7,-9.5, -6.7,-13.5, -8.4,-17.8, -9.9,-22.5],
 [-9.8,-22, -9.1,-16, -8.2,-10, -7.2,-5.2, -6.1,-1.9, -4.8,0.6, -3.4,2.4, -1.6,3.8, 0.4,5.2, 1.9,7.3, 3.4,11, 4.9,15.5, 6.4,20.6, 7.9,26, 9.2,30.5, 10,33],
 [10,33, 9.7,25, 9.2,17, 8.4,10, 7,4.7, 5.1,1.2, 3.1,-1.1, 1.1,-3.1, -0.9,-4.6, -2.9,-6.8, -4.9,-10, -6.8,-14, -8.4,-18, -9.8,-22],
 [-20,-41, -19.3,-32, -18.5,-23, -17.3,-13, -16,-6.5, -14.3,-2, -12.5,0, -10.7,2.7, -8,4, -5.5,5.3, -3,7.5, -1,10.5, 1,14, 3,18.5, 5,23, 7,27.5, 9,31, 11,35, 13.5,38.5, 16.5,41.8, 20,44.5],
 [20,44.5, 19.8,35, 19.5,25, 19,17, 18.1,9, 17,4.5, 16,1.5, 14.5,-0.5, 12.5,-1.8, 10,-3, 7.5,-7, 5.5,-12, 3,-17.5, 0,-23, -3.5,-27.5, -7,-30.5, -10,-33, -12.5,-35, -16,-38, -20,-41],
 [-19.9,-40.5, -19.2,-31.5, -18.3,-22.5, -17.1,-12.5, -15.8,-6, -14.1,-1.7, -12.3,0.3, -10.5,2.9, -7.8,4.3, -5.3,5.6, -2.8,7.9, -0.8,10.9, 1.2,14.4, 3.2,18.9, 5.2,23.4, 7.2,27.9, 9.2,31.4, 11.2,35.3, 13.7,38.7, 16.7,41.9, 20,44.5],
 [20,44.5, 19.8,34.5, 19.4,24.5, 18.9,16.5, 17.9,8.7, 16.8,4.2, 15.8,1.2, 14.3,-0.8, 12.3,-2.1, 9.8,-3.4, 7.3,-7.5, 5.3,-12.5, 2.8,-18, -0.2,-23.5, -3.7,-27.8, -7.2,-30.8, -10.2,-33.2, -12.7,-35, -16.2,-37.8, -19.9,-40.5],
 [-19.8,-40, -19.1,-31, -18.2,-22, -17,-12, -15.6,-5.6, -13.9,-1.4, -12.1,0.6, -10.3,3.1, -7.6,4.6, -5.1,5.9, -2.6,8.3, -0.6,11.3, 1.4,14.8, 3.4,19.3, 5.4,23.8, 7.4,28.2, 9.4,31.7, 11.4,35.6, 13.9,38.9, 16.9,42, 20,44.5],
 [20,44.5, 19.7,34, 19.3,24, 18.8,16, 17.8,8.4, 16.6,3.9, 15.6,0.9, 14.1,-1.1, 12.1,-2.4, 9.6,-3.8, 7.1,-8, 5.1,-13, 2.6,-18.5, -0.4,-24, -3.9,-28, -7.4,-31, -10.4,-33.3, -12.9,-35, -16.4,-37.6, -19.8,-40],
 [-19.8,-40, -19.1,-31, -18.2,-22, -17,-12, -15.6,-5.6, -13.9,-1.4, -12.1,0.6, -10.3,3.1, -7.6,4.6, -5.1,5.9, -2.6,8.3, -0.6,11.3, 1.4,14.8, 3.4,19.3, 5.4,23.8, 7.4,28.2, 9.4,31.7, 11.4,35.6, 13.9,38.9, 16.9,42, 20,44.5, 25,45.3, 30,45.5],
 [30,45.5, 29.9,36, 29.7,26, 29.3,17, 28.6,9, 27.6,3.5, 26.5,0.5, 25,-1.5, 22,-3.5, 19,-6.5, 15.5,-11, 12,-16, 8.5,-20.5, 4.5,-24.5, 0,-28.5, -5,-32.5, -10,-35.5, -15,-37.3, -20,-38.3, -25,-38.8, -30,-39],
 [-30,-39, -29.3,-30, -28.3,-20, -27,-11, -25.3,-4.5, -23.4,-1.5, -21.6,0, -19.7,1.8, -16.1,3.6, -10.7,5.3, -7,7.3, -3.5,9.6, 0,14, 3.7,19.2, 6.5,26, 9.5,33, 13,38, 16.5,42, 20,44.5, 25,44.2, 30,43.9],
 [30,43.9, 29.9,35, 29.6,25, 29.2,16, 28.4,8.5, 27.4,3.2, 26.3,0.3, 24.5,-1.8, 21.5,-3.8, 18.5,-7, 15,-11.5, 11.5,-16.5, 8,-20.5, 4,-24, 0,-27, -5,-30.5, -10,-33, -15,-34.8, -20,-35.8, -25,-36.3, -30,-36.5],
 [-30,-36.5, -29.3,-28, -28.3,-18, -27,-10, -25.3,-4, -23.4,-1, -21.6,0.5, -19,2.5, -15,4.5, -11,6.5, -7,9.5, -3,14, 1,19.5, 5,24.5, 9.1,28.7, 14,31.5, 19.9,34, 25,36.5, 32.5,40.9, 37,41.8, 40.2,42.2],
 [40.2,42.2, 40.1,34, 39.5,28.5, 38.8,25.3, 38.5,21, 37.9,17.4, 36.1,8.8, 34.3,4.4, 32.5,1.8, 30.3,-0.3, 27,-2, 23,-3.5, 19,-6, 14.5,-11.2, 9.1,-18.1, 4.6,-22.5, 0.1,-26, -7.1,-29.4, -13,-31, -19.7,-32, -25,-33, -30.5,-34.2, -35,-35.2, -40.4,-35.9],
 [-40.4,-35.9, -38.6,-29.5, -36.8,-23.4, -35,-15, -33.6,-7.5, -32,-3, -30.5,0, -29.6,1.8, -27.5,3.3, -26,4.4, -22,5.8, -17,8.8, -12.5,12, -8,15.5, -3.5,20.5, 1,24.5, 5.5,29.8, 10,34.5, 14.5,38.5, 20,43.5, 25,46.3, 30,47.8],
 [30,47.8, 29.9,38, 29.6,28, 29.1,18, 28.3,9, 27.3,3, 26,0, 24,-1.5, 20.8,-3.4, 18.5,-7, 16.3,-10.3, 13.5,-14.5, 10.9,-18.1, 8.5,-21.5, 6.4,-24.2, 2.8,-28.6, -1,-31.5, -3.5,-33.5, -8,-37, -12.5,-39.8, -16,-41.4, -19.7,-42.4, -25,-43.1, -29.6,-43.3],
 [-29.6,-43.3, -29,-33, -28,-22, -26.8,-12, -25,-5, -23.3,-1.5, -21.6,0, -19,2.3, -15,4.3, -11,6.5, -7,9.5, -3,13.5, 1,18.5, 4,23, 7.3,27.9, 12,30, 19.9,32.2, 27,34, 35.3,35.5, 37.5,34.4, 38,25.3],
 [38,25.3, 37.9,17.4, 37,12, 36,8.5, 34.3,4.4, 32.5,1.8, 30.3,-0.3, 28,-1.5, 24,-3.2, 20,-5, 17,-8.5, 13,-14, 9,-19.5, 5,-23.5, 1,-27, -4,-30.5, -9,-33.5, -15,-36, -20,-37.5, -25,-38.5, -30,-39]
];

// ---------------------------------------------------------------
// Layout
// ---------------------------------------------------------------
const plotTop = 14.7, plotBottom = 400;
const panelFrames = [
  { left: 84, right: 453.3, labelClipLeft: 0, legend: { x: 297, y: 298, w: 140, h: 76 } },
  { left: 486.7, right: 856.7, labelClipLeft: 481.5, legend: { x: 699, y: 298, w: 145, h: 79 } },
  { left: 888.3, right: 1257.7, labelClipLeft: 883, legend: { x: 1100, y: 298, w: 146, h: 79 } }
];
const seriesData = [[np0, np90], [rnp0, rnp90], [sb0, sb90]];
const colors = ["#ff0000", "#000000"];
const tickFont = 16.5, titleFont = 19.5, legendFont = 16.5;

const svg = d3.select("#chart");
const defs = svg.append("defs");
const y = d3.scaleLinear().domain([-50, 50]).range([plotBottom, plotTop]);

function toPoints(flat) {
  const pts = [];
  for (let k = 0; k < flat.length; k += 2) pts.push([flat[k], flat[k + 1]]);
  return pts;
}

panelFrames.forEach((frame, i) => {
  const x = d3.scaleLinear().domain([-50, 50]).range([frame.left, frame.right]);
  const g = svg.append("g");

  defs.append("clipPath").attr("id", "plot-clip-" + i)
    .append("rect")
    .attr("x", frame.left).attr("y", plotTop)
    .attr("width", frame.right - frame.left).attr("height", plotBottom - plotTop);
  defs.append("clipPath").attr("id", "label-clip-" + i)
    .append("rect")
    .attr("x", frame.labelClipLeft).attr("y", 0)
    .attr("width", 1279 - frame.labelClipLeft).attr("height", 475);

  // gridlines
  const grid = g.append("g").attr("stroke", "#d9d9d9").attr("stroke-width", 1);
  grid.selectAll("line.gx").data(xTicks).join("line")
    .attr("x1", d => x(d)).attr("x2", d => x(d))
    .attr("y1", plotTop).attr("y2", plotBottom);
  grid.selectAll("line.gy").data(yTicks).join("line")
    .attr("x1", frame.left).attr("x2", frame.right)
    .attr("y1", d => y(d)).attr("y2", d => y(d));

  // horizontal zero axis with cross ticks
  [d3.axisBottom, d3.axisTop].forEach(ax => {
    g.append("g").attr("transform", `translate(0,${y(0)})`)
      .call(ax(x).tickValues(innerTicks).tickSize(6.5).tickFormat(""))
      .call(a => a.select(".domain").remove())
      .call(a => a.selectAll("line").attr("stroke", "#000").attr("stroke-width", 1.5));
  });
  g.append("line")
    .attr("x1", frame.left).attr("x2", frame.right)
    .attr("y1", y(0)).attr("y2", y(0))
    .attr("stroke", "#000").attr("stroke-width", 1.5);

  // vertical zero axis (first panel)
  if (i === 0) {
    g.append("line")
      .attr("x1", x(0)).attr("x2", x(0))
      .attr("y1", plotTop).attr("y2", plotBottom)
      .attr("stroke", "#000").attr("stroke-width", 1.5);
    [d3.axisLeft, d3.axisRight].forEach(ax => {
      g.append("g").attr("transform", `translate(${x(0)},0)`)
        .call(ax(y).tickValues([-40, -30, -20, -10, 10, 20, 30, 40]).tickSize(7).tickFormat(""))
        .call(a => a.select(".domain").remove())
        .call(a => a.selectAll("line").attr("stroke", "#000").attr("stroke-width", 1.5));
    });
  }

  // hysteresis curves
  const line = d3.line().x(d => x(d[0])).y(d => y(d[1])).curve(d3.curveMonotoneX);
  const curves = g.append("g").attr("clip-path", `url(#plot-clip-${i})`).attr("fill", "none");
  seriesData[i].forEach((branches, s) => {
    curves.append("g")
      .attr("stroke", colors[s]).attr("stroke-width", 1.3)
      .attr("stroke-linejoin", "round")
      .selectAll("path").data(branches).join("path")
      .attr("d", b => line(toPoints(b)));
  });

  // plot frame
  g.append("rect")
    .attr("x", frame.left).attr("y", plotTop)
    .attr("width", frame.right - frame.left).attr("height", plotBottom - plotTop)
    .attr("fill", "none").attr("stroke", "#000").attr("stroke-width", 2);

  // x tick labels
  const xl = g.append("g").attr("transform", `translate(0,${plotBottom})`)
    .attr("clip-path", `url(#label-clip-${i})`)
    .call(d3.axisBottom(x).tickValues(xTicks).tickSize(0).tickPadding(23).tickFormat(d3.format("d")));
  xl.select(".domain").remove();
  xl.selectAll("text").attr("font-size", tickFont).attr("font-family", "'Open Sans', sans-serif").attr("fill", "#000");

  // x title
  g.append("text")
    .attr("x", x(0)).attr("y", 467)
    .attr("text-anchor", "middle")
    .attr("font-size", titleFont).attr("font-weight", "bold")
    .text("Displacement (mm)");

  // legend
  const lg = g.append("g");
  const L = frame.legend;
  lg.append("rect").attr("x", L.x).attr("y", L.y).attr("width", L.w).attr("height", L.h)
    .attr("fill", "#fff").attr("stroke", "#000").attr("stroke-width", 1.5);
  seriesNames[i].forEach((name, s) => {
    const ly = L.y + (s === 0 ? 19 : 57);
    lg.append("line").attr("x1", L.x + 10).attr("x2", L.x + 56)
      .attr("y1", ly).attr("y2", ly)
      .attr("stroke", colors[s]).attr("stroke-width", 1.3);
    lg.append("text").attr("x", L.x + 62).attr("y", ly).attr("dy", "0.35em")
      .attr("font-size", legendFont).text(name);
  });
});

// y axis labels (first panel)
const yl = svg.append("g").attr("transform", `translate(${panelFrames[0].left},0)`)
  .call(d3.axisLeft(y).tickValues(yTicks).tickSize(0).tickPadding(20).tickFormat(d3.format("d")));
yl.select(".domain").remove();
yl.selectAll("text").attr("font-size", tickFont).attr("font-family", "'Open Sans', sans-serif").attr("fill", "#000");

svg.append("text")
  .attr("transform", `translate(25,${y(0)}) rotate(-90)`)
  .attr("text-anchor", "middle")
  .attr("font-size", titleFont).attr("font-weight", "bold")
  .text("Load (kN)");
</script>
</body>
</html>
